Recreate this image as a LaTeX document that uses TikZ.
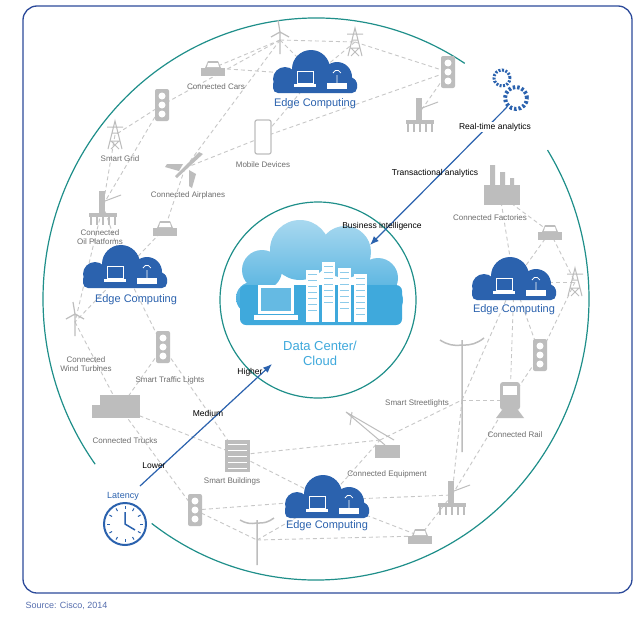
\documentclass[tikz,border=0pt]{standalone}
\usepackage{fontspec}
\setmainfont{Liberation Sans}
\usetikzlibrary{arrows.meta}
\definecolor{frame}{HTML}{2C4A9A}
\definecolor{teal}{HTML}{1F8F8A}
\definecolor{eblue}{HTML}{2B62AE}
\definecolor{lblue}{HTML}{3FA9DC}
\definecolor{ic}{HTML}{BDBDBD}
\definecolor{gt}{HTML}{6E6E6E}
\tikzset{
 x=1pt,y=-1pt,
 lab/.style={font=\fontsize{8}{9}\selectfont,text=gt,align=center,inner sep=1pt},
 elab/.style={font=\fontsize{11}{12}\selectfont,text=eblue},
 blk/.style={font=\fontsize{8.5}{10}\selectfont,text=black,inner sep=1pt},
 dl/.style={draw=ic!85,line width=0.9pt,dash pattern=on 4pt off 3pt},
 pics/car/.style={code={\fill[ic] (-12,0) rectangle (12,8);\fill[ic] (-8,0)--(-5,-7)--(5,-7)--(8,0)--cycle;
   \fill[white](-5,-5)--(5,-5)--(6,-1)--(-6,-1)--cycle;}},
 pics/tl/.style={code={\fill[ic,rounded corners=2pt] (-7,-16) rectangle (7,16);
   \foreach \k in {-9,0,9}\fill[white] (0,\k) circle (3.5);}},
 pics/tower/.style={code={\draw[ic,line width=1pt] (-7,14)--(0,-14)--(7,14) (-5,6)--(5,6) (-3,-2)--(3,-2) (-8,-8)--(8,-8) (-4,6)--(4,14) (4,6)--(-4,14);}},
 pics/turb/.style={code={\draw[ic,line width=1.2pt] (0,-8)--(0,14) (0,-8)--(-2,-20) (0,-8)--(9,-3) (0,-8)--(-9,-3);}},
 pics/oil/.style={code={\fill[ic] (-14,8) rectangle (14,12);\foreach \k in {-12,-6,0,6,12}\fill[ic] (\k-1,12) rectangle (\k+1,20);
   \fill[ic] (-4,-14) rectangle (2,8);\draw[ic,line width=1pt] (2,-4)--(18,-10);}},
 pics/ecloud/.style={code={\fill[eblue] (-30,4) circle (12) (-4,-6) circle (19) (22,2) circle (15) (34,10) circle (8);
   \fill[eblue,rounded corners=5pt] (-42,4) rectangle (42,18);
   \draw[white,line width=1pt] (-18,-4) rectangle (-2,8); \fill[white] (-21,9) rectangle (1,12);
   \fill[white] (12,8) rectangle (32,14); \draw[white,line width=0.8pt] (22,8)--(22,0) (18,-2) arc (200:340:4.2);}},
}
\begin{document}
\begin{tikzpicture}
\useasboundingbox (0,0) rectangle (644,616);
\fill[white] (0,0) rectangle (644,616);
\draw[frame,line width=1.3pt,rounded corners=14pt] (23,6) rectangle (632,593);
\node[anchor=west,font=\fontsize{9}{10}\selectfont,text=frame!80] (src) at (22,606) {Source: Cisco, 2014};
% outer circle with gaps
\draw[teal,line width=1.2pt] (316,299) ++(-57:273 and 281) arc[start angle=-57,end angle=-216,x radius=273,y radius=281];
\draw[teal,line width=1.2pt] (316,299) ++(-233:273 and 281) arc[start angle=-233,end angle=-392,x radius=273,y radius=281];
% coordinates of icons
\foreach \n/\p in {tu1/{280,40},tw1/{355,42},tl1/{448,72},oil1/{420,112},car1/{213,68},tl2/{162,105},tw2/{115,135},pl/{185,168},ph/{263,137},oil2/{103,205},car2/{165,228},fac/{500,195},car3/{550,232},tw3/{575,282},tl3/{540,355},rail/{510,400},sl1/{462,400},cr/{380,440},oil3/{452,495},car4/{420,536},tl4/{163,347},tu2/{75,322},tr/{120,408},bd/{238,455},tl5/{195,510},sl2/{257,540},ec1/{315,75},ec2/{125,270},ec3/{514,282},ec4/{327,500}}
 \coordinate (\n) at (\p);
% dashed network
\foreach \a/\b in {tu1/tw1,tu1/car1,tu1/ec1,tu1/tl2,tu1/pl,tw1/tl1,tw1/ec1,tl1/oil1,car1/ec1,tl2/tw2,tl2/oil2,tw2/oil2,pl/ph,ph/ec1,pl/car2,oil2/ec2,car2/ec2,ec2/tu2,ec2/tl4,tu2/tr,tl4/tr,tl4/bd,tr/bd,tr/tl5,bd/ec4,tl5/ec4,tl5/sl2,sl2/ec4,sl2/car4,ec4/cr,ec4/oil3,cr/sl1,sl1/rail,sl1/oil3,rail/tl3,rail/ec3,tl3/ec3,ec3/tw3,ec3/car3,ec3/fac,fac/car3,car3/tw3,tw3/tl3,oil3/car4,oil3/rail,ec4/car4,cr/bd,sl1/ec3,oil2/tu2,ph/tl1}
 \draw[dl] (\a)--(\b);
\foreach \n/\t in {tu1/turb,tu2/turb,tw1/tower,tw2/tower,tw3/tower,tl1/tl,tl2/tl,tl3/tl,tl4/tl,tl5/tl,car1/car,car2/car,car3/car,car4/car,oil1/oil,oil2/oil,oil3/oil}
 \pic at (\n) {\t};
% airplane
\fill[ic] (pl) ++(18,-14)--++(-4,-2)--++(-24,24)--++(2,2)--cycle;
\fill[ic] (pl) ++(-2,-4)--++(-16,0)--++(-2,3)--++(14,4)--cycle;
\fill[ic] (pl) ++(4,2)--++(0,16)--++(3,2)--++(4,-14)--cycle;
% phone
\draw[ic,line width=1.2pt,rounded corners=2pt,fill=white] (255,120) rectangle (271,154);
% factory
\fill[ic] (484,185) rectangle (520,205); \fill[ic] (490,165) rectangle (495,185) (500,172) rectangle (505,185) (510,178) rectangle (514,185);
% rail
\fill[ic,rounded corners=3pt] (500,382) rectangle (520,410); \fill[ic] (496,418)--(524,418)--(518,410)--(502,410)--cycle;
\fill[white] (503,386) rectangle (517,395);
% streetlights
\draw[ic,line width=1.5pt] (462,452)--(462,340) (462,345) to[bend left=20] (440,340) (462,345) to[bend right=20] (484,338);
\draw[ic,line width=1.5pt] (257,565)--(257,520) (257,523) to[bend left=20] (240,520) (257,523) to[bend right=20] (274,518);
% crane
\fill[ic] (375,445) rectangle (400,458); \draw[ic,line width=1pt] (385,445)--(346,412)--(394,440) (352,412)--(350,425);
% truck
\fill[ic] (100,395) rectangle (140,418); \fill[ic] (92,405) rectangle (100,418);
% building
\fill[ic] (225,440) rectangle (250,472);\foreach \k in {444,450,...,468}\draw[white,line width=0.7pt] (228,\k)--(247,\k);
% gray labels
\node[lab] (l1) at (216,87) {Connected Cars};
\node[lab] (l2) at (120,159) {Smart Grid};
\node[lab] (l3) at (263,165) {Mobile Devices};
\node[lab] (l4) at (188,195) {Connected Airplanes};
\node[lab] (l5) at (100,237) {Connected\\Oil Platforms};
\node[lab] (l6) at (490,218) {Connected Factories};
\node[lab] (l7) at (86,364) {Connected\\Wind Turbines};
\node[lab] (l8) at (170,380) {Smart Traffic Lights};
\node[lab] (l9) at (125,441) {Connected Trucks};
\node[lab] (l10) at (232,481) {Smart Buildings};
\node[lab] (l11) at (417,403) {Smart Streetlights};
\node[lab] (l12) at (515,435) {Connected Rail};
\node[lab] (l13) at (387,474) {Connected Equipment};
% edge clouds
\foreach \n in {ec1,ec2,ec3,ec4} \pic at (\n) {ecloud};
\node[elab] (e1) at (315,104) {Edge Computing};
\node[elab] (e2) at (136,300) {Edge Computing};
\node[elab] (e3) at (514,310) {Edge Computing};
\node[elab] (e4) at (327,526) {Edge Computing};
% inner circle
\draw[teal,line width=1.2pt,fill=white] (318,300) circle (98);
\shade[top color=lblue!45,bottom color=lblue] (262,270) circle (20) (300,250) circle (30) (345,252) circle (26) (378,278) circle (20) (252,298) circle (16) (388,300) circle (15);
\fill[lblue,rounded corners=6pt] (240,285) rectangle (402,325);
\fill[white] (258,285) rectangle (294,314); \fill[lblue!80] (261,288) rectangle (291,311); \fill[white] (254,315) rectangle (298,320);
\foreach \xx/\hh in {306/270,322/262,338/268,354/274}{\fill[white] (\xx,\hh) rectangle (\xx+13,322);
 \foreach \k in {0,6,...,40}\draw[lblue!60,line width=0.5pt] (\xx+2,\hh+4+\k)--(\xx+11,\hh+4+\k);}
\node[font=\fontsize{13}{15}\selectfont,text=lblue,align=center] (dc) at (320,353) {Data Center/\\Cloud};
% gears
\node[draw=eblue,circle,line width=3pt,dash pattern=on 2pt off 1.5pt,minimum size=16pt,inner sep=0] (g1) at (502,78) {};
\node[draw=eblue,circle,line width=4pt,dash pattern=on 2.5pt off 2pt,minimum size=22pt,inner sep=0] (g2) at (516,98) {};
% analytics arrow
\coordinate (aend) at (370,245);
\draw[eblue,line width=1.2pt,-{Latex[length=9pt,width=7pt]}] (g2) -- (aend);
\node[blk,fill=white] (r1) at (495,127) {Real-time analytics};
\node[blk] (r2) at (435,173) {Transactional analytics};
\node[blk] (r3) at (382,226) {Business intelligence};
% clock
\node[draw=eblue,circle,line width=2pt,minimum size=42pt,inner sep=0] (clk) at (125,524) {};
\foreach \a in {0,30,...,330}\draw[eblue,line width=1pt] (clk) ++(\a:15)--++(\a:3);
\draw[eblue,line width=1.5pt] (125,512)--(clk.center)--(135,530);
\node[font=\fontsize{9}{10}\selectfont,text=eblue] (lat) at (123,496) {Latency};
\coordinate (lend) at (272,364);
\draw[eblue,line width=1.2pt,-{Latex[length=9pt,width=7pt]}] (140,486) -- (lend);
\node[blk] (h1) at (154,466) {Lower};
\node[blk] (h2) at (208,413) {Medium};
\node[blk] (h3) at (250,372) {Higher};
\end{tikzpicture}
\end{document}
